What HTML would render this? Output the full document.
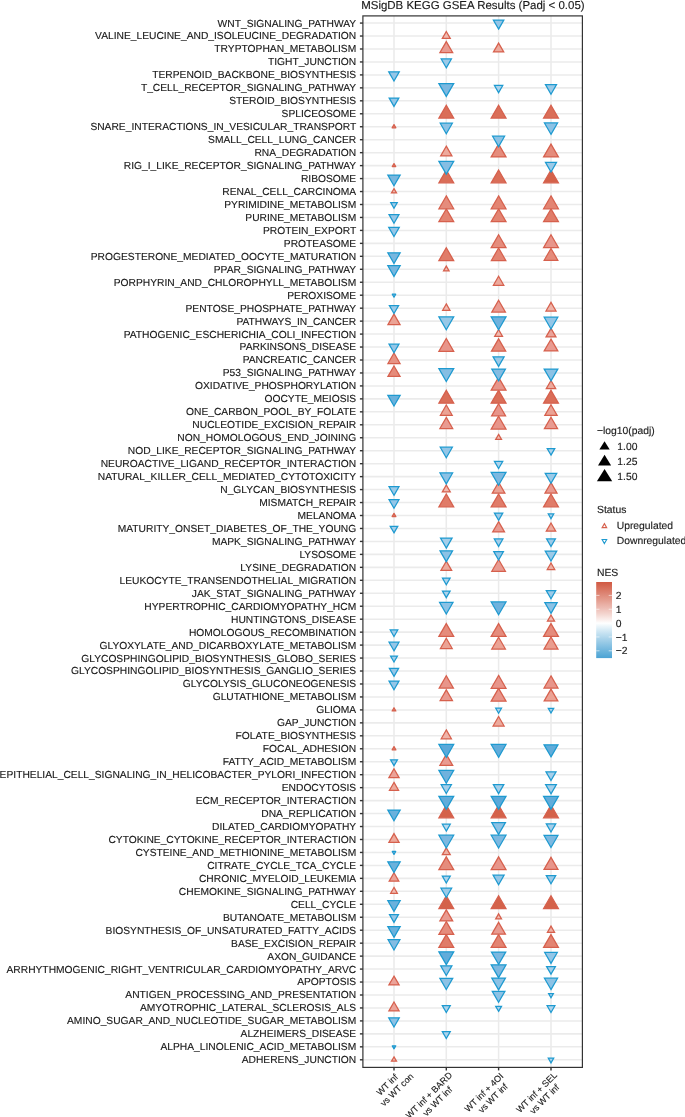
<!DOCTYPE html>
<html><head><meta charset="utf-8"><title>MSigDB KEGG GSEA Results</title>
<style>html,body{margin:0;padding:0;background:#fff;}body{width:685px;height:1117px;overflow:hidden;}svg{display:block;will-change:transform;transform:translateZ(0);}text{font-family:"Liberation Sans",sans-serif;fill:#1a1a1a;stroke:#1a1a1a;stroke-width:0.14px;text-rendering:geometricPrecision;}</style></head><body>
<svg width="685" height="1117" viewBox="0 0 685 1117">
<rect x="0" y="0" width="685" height="1117" fill="#ffffff"/>
<text x="361.2" y="8.8" font-size="11.47" fill="#000">MSigDB KEGG GSEA Results (Padj &lt; 0.05)</text>
<g stroke="#ebebeb" stroke-width="1.55">
<line x1="362.9" x2="582.4" y1="23.07" y2="23.07"/>
<line x1="362.9" x2="582.4" y1="36.03" y2="36.03"/>
<line x1="362.9" x2="582.4" y1="48.99" y2="48.99"/>
<line x1="362.9" x2="582.4" y1="61.95" y2="61.95"/>
<line x1="362.9" x2="582.4" y1="74.91" y2="74.91"/>
<line x1="362.9" x2="582.4" y1="87.87" y2="87.87"/>
<line x1="362.9" x2="582.4" y1="100.82" y2="100.82"/>
<line x1="362.9" x2="582.4" y1="113.78" y2="113.78"/>
<line x1="362.9" x2="582.4" y1="126.74" y2="126.74"/>
<line x1="362.9" x2="582.4" y1="139.70" y2="139.70"/>
<line x1="362.9" x2="582.4" y1="152.66" y2="152.66"/>
<line x1="362.9" x2="582.4" y1="165.62" y2="165.62"/>
<line x1="362.9" x2="582.4" y1="178.58" y2="178.58"/>
<line x1="362.9" x2="582.4" y1="191.54" y2="191.54"/>
<line x1="362.9" x2="582.4" y1="204.50" y2="204.50"/>
<line x1="362.9" x2="582.4" y1="217.45" y2="217.45"/>
<line x1="362.9" x2="582.4" y1="230.41" y2="230.41"/>
<line x1="362.9" x2="582.4" y1="243.37" y2="243.37"/>
<line x1="362.9" x2="582.4" y1="256.33" y2="256.33"/>
<line x1="362.9" x2="582.4" y1="269.29" y2="269.29"/>
<line x1="362.9" x2="582.4" y1="282.25" y2="282.25"/>
<line x1="362.9" x2="582.4" y1="295.21" y2="295.21"/>
<line x1="362.9" x2="582.4" y1="308.17" y2="308.17"/>
<line x1="362.9" x2="582.4" y1="321.13" y2="321.13"/>
<line x1="362.9" x2="582.4" y1="334.09" y2="334.09"/>
<line x1="362.9" x2="582.4" y1="347.04" y2="347.04"/>
<line x1="362.9" x2="582.4" y1="360.00" y2="360.00"/>
<line x1="362.9" x2="582.4" y1="372.96" y2="372.96"/>
<line x1="362.9" x2="582.4" y1="385.92" y2="385.92"/>
<line x1="362.9" x2="582.4" y1="398.88" y2="398.88"/>
<line x1="362.9" x2="582.4" y1="411.84" y2="411.84"/>
<line x1="362.9" x2="582.4" y1="424.80" y2="424.80"/>
<line x1="362.9" x2="582.4" y1="437.76" y2="437.76"/>
<line x1="362.9" x2="582.4" y1="450.72" y2="450.72"/>
<line x1="362.9" x2="582.4" y1="463.68" y2="463.68"/>
<line x1="362.9" x2="582.4" y1="476.63" y2="476.63"/>
<line x1="362.9" x2="582.4" y1="489.59" y2="489.59"/>
<line x1="362.9" x2="582.4" y1="502.55" y2="502.55"/>
<line x1="362.9" x2="582.4" y1="515.51" y2="515.51"/>
<line x1="362.9" x2="582.4" y1="528.47" y2="528.47"/>
<line x1="362.9" x2="582.4" y1="541.43" y2="541.43"/>
<line x1="362.9" x2="582.4" y1="554.39" y2="554.39"/>
<line x1="362.9" x2="582.4" y1="567.35" y2="567.35"/>
<line x1="362.9" x2="582.4" y1="580.31" y2="580.31"/>
<line x1="362.9" x2="582.4" y1="593.27" y2="593.27"/>
<line x1="362.9" x2="582.4" y1="606.23" y2="606.23"/>
<line x1="362.9" x2="582.4" y1="619.18" y2="619.18"/>
<line x1="362.9" x2="582.4" y1="632.14" y2="632.14"/>
<line x1="362.9" x2="582.4" y1="645.10" y2="645.10"/>
<line x1="362.9" x2="582.4" y1="658.06" y2="658.06"/>
<line x1="362.9" x2="582.4" y1="671.02" y2="671.02"/>
<line x1="362.9" x2="582.4" y1="683.98" y2="683.98"/>
<line x1="362.9" x2="582.4" y1="696.94" y2="696.94"/>
<line x1="362.9" x2="582.4" y1="709.90" y2="709.90"/>
<line x1="362.9" x2="582.4" y1="722.86" y2="722.86"/>
<line x1="362.9" x2="582.4" y1="735.82" y2="735.82"/>
<line x1="362.9" x2="582.4" y1="748.77" y2="748.77"/>
<line x1="362.9" x2="582.4" y1="761.73" y2="761.73"/>
<line x1="362.9" x2="582.4" y1="774.69" y2="774.69"/>
<line x1="362.9" x2="582.4" y1="787.65" y2="787.65"/>
<line x1="362.9" x2="582.4" y1="800.61" y2="800.61"/>
<line x1="362.9" x2="582.4" y1="813.57" y2="813.57"/>
<line x1="362.9" x2="582.4" y1="826.53" y2="826.53"/>
<line x1="362.9" x2="582.4" y1="839.49" y2="839.49"/>
<line x1="362.9" x2="582.4" y1="852.45" y2="852.45"/>
<line x1="362.9" x2="582.4" y1="865.40" y2="865.40"/>
<line x1="362.9" x2="582.4" y1="878.36" y2="878.36"/>
<line x1="362.9" x2="582.4" y1="891.32" y2="891.32"/>
<line x1="362.9" x2="582.4" y1="904.28" y2="904.28"/>
<line x1="362.9" x2="582.4" y1="917.24" y2="917.24"/>
<line x1="362.9" x2="582.4" y1="930.20" y2="930.20"/>
<line x1="362.9" x2="582.4" y1="943.16" y2="943.16"/>
<line x1="362.9" x2="582.4" y1="956.12" y2="956.12"/>
<line x1="362.9" x2="582.4" y1="969.08" y2="969.08"/>
<line x1="362.9" x2="582.4" y1="982.04" y2="982.04"/>
<line x1="362.9" x2="582.4" y1="995.00" y2="995.00"/>
<line x1="362.9" x2="582.4" y1="1007.95" y2="1007.95"/>
<line x1="362.9" x2="582.4" y1="1020.91" y2="1020.91"/>
<line x1="362.9" x2="582.4" y1="1033.87" y2="1033.87"/>
<line x1="362.9" x2="582.4" y1="1046.83" y2="1046.83"/>
<line x1="362.9" x2="582.4" y1="1059.79" y2="1059.79"/>
<line x1="394.00" x2="394.00" y1="15.9" y2="1067.4"/>
<line x1="446.30" x2="446.30" y1="15.9" y2="1067.4"/>
<line x1="498.60" x2="498.60" y1="15.9" y2="1067.4"/>
<line x1="551.00" x2="551.00" y1="15.9" y2="1067.4"/>
</g>
<g>
<polygon points="394.00,1056.88 396.52,1061.24 391.48,1061.24" fill="#f1bab0" stroke="#d6604d" stroke-width="1.25" stroke-linejoin="miter"/>
<polygon points="551.00,1062.93 553.72,1058.22 548.28,1058.22" fill="#acd3ec" stroke="#1e9ad0" stroke-width="1.25" stroke-linejoin="miter"/>
<polygon points="394.00,1048.82 395.73,1045.84 392.27,1045.84" fill="#81bde1" stroke="#1e9ad0" stroke-width="1.25" stroke-linejoin="round"/>
<polygon points="446.30,1038.45 450.27,1031.58 442.33,1031.58" fill="#acd3ec" stroke="#1e9ad0" stroke-width="1.25" stroke-linejoin="miter"/>
<polygon points="394.00,1027.00 399.27,1017.87 388.73,1017.87" fill="#8dc1e4" stroke="#1e9ad0" stroke-width="1.25" stroke-linejoin="miter"/>
<polygon points="394.00,1002.04 399.12,1010.91 388.88,1010.91" fill="#eba399" stroke="#d6604d" stroke-width="1.25" stroke-linejoin="miter"/>
<polygon points="446.30,1012.54 450.27,1005.66 442.33,1005.66" fill="#acd3ec" stroke="#1e9ad0" stroke-width="1.25" stroke-linejoin="miter"/>
<polygon points="498.60,1011.32 501.52,1006.27 495.68,1006.27" fill="#acd3ec" stroke="#1e9ad0" stroke-width="1.25" stroke-linejoin="miter"/>
<polygon points="551.00,1012.48 554.92,1005.69 547.08,1005.69" fill="#acd3ec" stroke="#1e9ad0" stroke-width="1.25" stroke-linejoin="miter"/>
<polygon points="498.60,1002.29 504.92,991.35 492.28,991.35" fill="#8cc2e5" stroke="#1e9ad0" stroke-width="1.25" stroke-linejoin="miter"/>
<polygon points="551.00,997.73 553.37,993.63 548.63,993.63" fill="#acd3ec" stroke="#1e9ad0" stroke-width="1.25" stroke-linejoin="miter"/>
<polygon points="394.00,976.13 399.12,984.99 388.88,984.99" fill="#eba399" stroke="#d6604d" stroke-width="1.25" stroke-linejoin="miter"/>
<polygon points="446.30,989.45 452.72,978.33 439.88,978.33" fill="#8cc2e5" stroke="#1e9ad0" stroke-width="1.25" stroke-linejoin="miter"/>
<polygon points="498.60,989.91 505.42,978.10 491.78,978.10" fill="#8cc2e5" stroke="#1e9ad0" stroke-width="1.25" stroke-linejoin="miter"/>
<polygon points="551.00,989.62 557.57,978.24 544.43,978.24" fill="#8cc2e5" stroke="#1e9ad0" stroke-width="1.25" stroke-linejoin="miter"/>
<polygon points="446.30,975.56 451.92,965.83 440.68,965.83" fill="#95c6e7" stroke="#1e9ad0" stroke-width="1.25" stroke-linejoin="miter"/>
<polygon points="498.60,977.64 506.02,964.79 491.18,964.79" fill="#7cb8e0" stroke="#1e9ad0" stroke-width="1.25" stroke-linejoin="miter"/>
<polygon points="551.00,974.18 555.42,966.53 546.58,966.53" fill="#a5cfea" stroke="#1e9ad0" stroke-width="1.25" stroke-linejoin="miter"/>
<polygon points="446.30,964.68 453.72,951.84 438.88,951.84" fill="#61acda" stroke="#1e9ad0" stroke-width="1.25" stroke-linejoin="miter"/>
<polygon points="498.60,964.34 505.72,952.01 491.48,952.01" fill="#7cb8e0" stroke="#1e9ad0" stroke-width="1.25" stroke-linejoin="miter"/>
<polygon points="551.00,963.41 557.32,952.47 544.68,952.47" fill="#93c6e7" stroke="#1e9ad0" stroke-width="1.25" stroke-linejoin="miter"/>
<polygon points="394.00,949.99 399.92,939.74 388.08,939.74" fill="#84bce2" stroke="#1e9ad0" stroke-width="1.25" stroke-linejoin="miter"/>
<polygon points="446.30,934.59 453.72,947.44 438.88,947.44" fill="#e07c69" stroke="#d6604d" stroke-width="1.25" stroke-linejoin="miter"/>
<polygon points="498.60,934.59 506.02,947.44 491.18,947.44" fill="#e38472" stroke="#d6604d" stroke-width="1.25" stroke-linejoin="miter"/>
<polygon points="551.00,934.59 558.42,947.44 543.58,947.44" fill="#e38472" stroke="#d6604d" stroke-width="1.25" stroke-linejoin="miter"/>
<polygon points="394.00,937.32 400.17,926.64 387.83,926.64" fill="#6ab1dc" stroke="#1e9ad0" stroke-width="1.25" stroke-linejoin="miter"/>
<polygon points="446.30,921.64 453.72,934.48 438.88,934.48" fill="#e58c7c" stroke="#d6604d" stroke-width="1.25" stroke-linejoin="miter"/>
<polygon points="498.60,922.33 505.42,934.14 491.78,934.14" fill="#e99b91" stroke="#d6604d" stroke-width="1.25" stroke-linejoin="miter"/>
<polygon points="551.00,926.08 554.57,932.26 547.43,932.26" fill="#eeb1a5" stroke="#d6604d" stroke-width="1.25" stroke-linejoin="miter"/>
<polygon points="394.00,922.40 398.47,914.66 389.53,914.66" fill="#95c6e7" stroke="#1e9ad0" stroke-width="1.25" stroke-linejoin="miter"/>
<polygon points="446.30,909.83 452.72,920.95 439.88,920.95" fill="#e99b91" stroke="#d6604d" stroke-width="1.25" stroke-linejoin="miter"/>
<polygon points="498.60,913.87 501.52,918.93 495.68,918.93" fill="#f1bab0" stroke="#d6604d" stroke-width="1.25" stroke-linejoin="miter"/>
<polygon points="394.00,911.40 400.17,900.72 387.83,900.72" fill="#6ab1dc" stroke="#1e9ad0" stroke-width="1.25" stroke-linejoin="miter"/>
<polygon points="446.30,895.72 453.72,908.56 438.88,908.56" fill="#d4624a" stroke="#d6604d" stroke-width="1.25" stroke-linejoin="miter"/>
<polygon points="498.60,895.72 506.02,908.56 491.18,908.56" fill="#d4624a" stroke="#d6604d" stroke-width="1.25" stroke-linejoin="miter"/>
<polygon points="551.00,895.72 558.42,908.56 543.58,908.56" fill="#d4624a" stroke="#d6604d" stroke-width="1.25" stroke-linejoin="miter"/>
<polygon points="394.00,887.43 397.37,893.27 390.63,893.27" fill="#f1bab0" stroke="#d6604d" stroke-width="1.25" stroke-linejoin="miter"/>
<polygon points="446.30,897.52 451.67,888.22 440.93,888.22" fill="#9bcae8" stroke="#1e9ad0" stroke-width="1.25" stroke-linejoin="miter"/>
<polygon points="394.00,872.80 398.82,881.15 389.18,881.15" fill="#eba399" stroke="#d6604d" stroke-width="1.25" stroke-linejoin="miter"/>
<polygon points="446.30,882.95 450.27,876.07 442.33,876.07" fill="#acd3ec" stroke="#1e9ad0" stroke-width="1.25" stroke-linejoin="miter"/>
<polygon points="498.60,884.74 504.12,875.18 493.08,875.18" fill="#95c6e7" stroke="#1e9ad0" stroke-width="1.25" stroke-linejoin="miter"/>
<polygon points="551.00,883.81 555.72,875.64 546.28,875.64" fill="#9bcae8" stroke="#1e9ad0" stroke-width="1.25" stroke-linejoin="miter"/>
<polygon points="394.00,872.53 400.17,861.84 387.83,861.84" fill="#6ab1dc" stroke="#1e9ad0" stroke-width="1.25" stroke-linejoin="miter"/>
<polygon points="446.30,856.84 453.72,869.69 438.88,869.69" fill="#e58c7c" stroke="#d6604d" stroke-width="1.25" stroke-linejoin="miter"/>
<polygon points="498.60,856.84 506.02,869.69 491.18,869.69" fill="#e8958a" stroke="#d6604d" stroke-width="1.25" stroke-linejoin="miter"/>
<polygon points="551.00,857.36 557.97,869.43 544.03,869.43" fill="#e8958a" stroke="#d6604d" stroke-width="1.25" stroke-linejoin="miter"/>
<polygon points="394.00,854.44 395.73,851.45 392.27,851.45" fill="#81bde1" stroke="#1e9ad0" stroke-width="1.25" stroke-linejoin="round"/>
<polygon points="446.30,847.86 450.27,854.74 442.33,854.74" fill="#eeb1a5" stroke="#d6604d" stroke-width="1.25" stroke-linejoin="miter"/>
<polygon points="394.00,833.58 399.12,842.44 388.88,842.44" fill="#edaa9d" stroke="#d6604d" stroke-width="1.25" stroke-linejoin="miter"/>
<polygon points="446.30,848.05 453.72,835.20 438.88,835.20" fill="#7cb8e0" stroke="#1e9ad0" stroke-width="1.25" stroke-linejoin="miter"/>
<polygon points="498.60,848.05 506.02,835.20 491.18,835.20" fill="#7cb8e0" stroke="#1e9ad0" stroke-width="1.25" stroke-linejoin="miter"/>
<polygon points="551.00,847.53 557.97,835.46 544.03,835.46" fill="#7cb8e0" stroke="#1e9ad0" stroke-width="1.25" stroke-linejoin="miter"/>
<polygon points="446.30,831.11 450.27,824.24 442.33,824.24" fill="#b7d9ee" stroke="#1e9ad0" stroke-width="1.25" stroke-linejoin="miter"/>
<polygon points="498.60,834.40 505.42,822.59 491.78,822.59" fill="#8cc2e5" stroke="#1e9ad0" stroke-width="1.25" stroke-linejoin="miter"/>
<polygon points="551.00,831.98 555.72,823.80 546.28,823.80" fill="#a5cfea" stroke="#1e9ad0" stroke-width="1.25" stroke-linejoin="miter"/>
<polygon points="394.00,820.69 400.17,810.01 387.83,810.01" fill="#6ab1dc" stroke="#1e9ad0" stroke-width="1.25" stroke-linejoin="miter"/>
<polygon points="446.30,805.00 453.72,817.85 438.88,817.85" fill="#d4624a" stroke="#d6604d" stroke-width="1.25" stroke-linejoin="miter"/>
<polygon points="498.60,805.00 506.02,817.85 491.18,817.85" fill="#d4624a" stroke="#d6604d" stroke-width="1.25" stroke-linejoin="miter"/>
<polygon points="551.00,805.00 558.42,817.85 543.58,817.85" fill="#d4624a" stroke="#d6604d" stroke-width="1.25" stroke-linejoin="miter"/>
<polygon points="446.30,809.17 453.72,796.33 438.88,796.33" fill="#61acda" stroke="#1e9ad0" stroke-width="1.25" stroke-linejoin="miter"/>
<polygon points="498.60,809.17 506.02,796.33 491.18,796.33" fill="#5aa8d9" stroke="#1e9ad0" stroke-width="1.25" stroke-linejoin="miter"/>
<polygon points="551.00,809.17 558.42,796.33 543.58,796.33" fill="#61acda" stroke="#1e9ad0" stroke-width="1.25" stroke-linejoin="miter"/>
<polygon points="394.00,782.38 398.57,790.29 389.43,790.29" fill="#edaa9d" stroke="#d6604d" stroke-width="1.25" stroke-linejoin="miter"/>
<polygon points="446.30,793.56 451.42,784.70 441.18,784.70" fill="#a5cfea" stroke="#1e9ad0" stroke-width="1.25" stroke-linejoin="miter"/>
<polygon points="498.60,793.68 503.82,784.64 493.38,784.64" fill="#a5cfea" stroke="#1e9ad0" stroke-width="1.25" stroke-linejoin="miter"/>
<polygon points="551.00,793.85 556.37,784.55 545.63,784.55" fill="#a5cfea" stroke="#1e9ad0" stroke-width="1.25" stroke-linejoin="miter"/>
<polygon points="394.00,768.78 399.12,777.65 388.88,777.65" fill="#eba399" stroke="#d6604d" stroke-width="1.25" stroke-linejoin="miter"/>
<polygon points="446.30,783.26 453.72,770.41 438.88,770.41" fill="#6fb2dd" stroke="#1e9ad0" stroke-width="1.25" stroke-linejoin="miter"/>
<polygon points="551.00,780.49 556.02,771.80 545.98,771.80" fill="#a5cfea" stroke="#1e9ad0" stroke-width="1.25" stroke-linejoin="miter"/>
<polygon points="394.00,765.68 397.42,759.76 390.58,759.76" fill="#9dcbe9" stroke="#1e9ad0" stroke-width="1.25" stroke-linejoin="miter"/>
<polygon points="446.30,754.32 452.72,765.44 439.88,765.44" fill="#e99b91" stroke="#d6604d" stroke-width="1.25" stroke-linejoin="miter"/>
<polygon points="394.00,746.61 395.88,749.86 392.12,749.86" fill="#e18b79" stroke="#d6604d" stroke-width="1.25" stroke-linejoin="round"/>
<polygon points="446.30,757.34 453.72,744.49 438.88,744.49" fill="#5aa8d9" stroke="#1e9ad0" stroke-width="1.25" stroke-linejoin="miter"/>
<polygon points="498.60,757.34 506.02,744.49 491.18,744.49" fill="#61acda" stroke="#1e9ad0" stroke-width="1.25" stroke-linejoin="miter"/>
<polygon points="551.00,756.82 557.97,744.75 544.03,744.75" fill="#61acda" stroke="#1e9ad0" stroke-width="1.25" stroke-linejoin="miter"/>
<polygon points="446.30,729.91 451.42,738.77 441.18,738.77" fill="#efb4a9" stroke="#d6604d" stroke-width="1.25" stroke-linejoin="miter"/>
<polygon points="498.60,716.48 504.12,726.04 493.08,726.04" fill="#edaa9d" stroke="#d6604d" stroke-width="1.25" stroke-linejoin="miter"/>
<polygon points="394.00,707.73 395.88,710.98 392.12,710.98" fill="#e18b79" stroke="#d6604d" stroke-width="1.25" stroke-linejoin="round"/>
<polygon points="498.60,713.27 501.52,708.21 495.68,708.21" fill="#acd3ec" stroke="#1e9ad0" stroke-width="1.25" stroke-linejoin="miter"/>
<polygon points="551.00,713.03 553.72,708.33 548.28,708.33" fill="#acd3ec" stroke="#1e9ad0" stroke-width="1.25" stroke-linejoin="miter"/>
<polygon points="446.30,689.82 452.47,700.50 440.13,700.50" fill="#e99b91" stroke="#d6604d" stroke-width="1.25" stroke-linejoin="miter"/>
<polygon points="498.60,688.37 506.02,701.22 491.18,701.22" fill="#e8958a" stroke="#d6604d" stroke-width="1.25" stroke-linejoin="miter"/>
<polygon points="551.00,689.07 557.82,700.87 544.18,700.87" fill="#eba395" stroke="#d6604d" stroke-width="1.25" stroke-linejoin="miter"/>
<polygon points="394.00,689.71 398.97,681.11 389.03,681.11" fill="#95c6e7" stroke="#1e9ad0" stroke-width="1.25" stroke-linejoin="miter"/>
<polygon points="446.30,675.76 453.42,688.09 439.18,688.09" fill="#e8958a" stroke="#d6604d" stroke-width="1.25" stroke-linejoin="miter"/>
<polygon points="498.60,675.41 506.02,688.26 491.18,688.26" fill="#e8958a" stroke="#d6604d" stroke-width="1.25" stroke-linejoin="miter"/>
<polygon points="551.00,675.93 557.97,688.00 544.03,688.00" fill="#e8958a" stroke="#d6604d" stroke-width="1.25" stroke-linejoin="miter"/>
<polygon points="394.00,676.35 398.62,668.35 389.38,668.35" fill="#95c6e7" stroke="#1e9ad0" stroke-width="1.25" stroke-linejoin="miter"/>
<polygon points="394.00,662.01 397.42,656.09 390.58,656.09" fill="#a3ceea" stroke="#1e9ad0" stroke-width="1.25" stroke-linejoin="miter"/>
<polygon points="394.00,650.84 398.97,642.23 389.03,642.23" fill="#95c6e7" stroke="#1e9ad0" stroke-width="1.25" stroke-linejoin="miter"/>
<polygon points="446.30,638.27 452.22,648.52 440.38,648.52" fill="#eba395" stroke="#d6604d" stroke-width="1.25" stroke-linejoin="miter"/>
<polygon points="498.60,637.23 505.42,649.04 491.78,649.04" fill="#eba395" stroke="#d6604d" stroke-width="1.25" stroke-linejoin="miter"/>
<polygon points="551.00,637.06 557.97,649.12 544.03,649.12" fill="#ea9d8e" stroke="#d6604d" stroke-width="1.25" stroke-linejoin="miter"/>
<polygon points="394.00,636.49 397.77,629.97 390.23,629.97" fill="#a3ceea" stroke="#1e9ad0" stroke-width="1.25" stroke-linejoin="miter"/>
<polygon points="446.30,623.58 453.72,636.43 438.88,636.43" fill="#e58c7c" stroke="#d6604d" stroke-width="1.25" stroke-linejoin="miter"/>
<polygon points="498.60,623.58 506.02,636.43 491.18,636.43" fill="#e58c7c" stroke="#d6604d" stroke-width="1.25" stroke-linejoin="miter"/>
<polygon points="551.00,623.58 558.42,636.43 543.58,636.43" fill="#e58c7c" stroke="#d6604d" stroke-width="1.25" stroke-linejoin="miter"/>
<polygon points="551.00,615.06 554.57,621.24 547.43,621.24" fill="#f1bab0" stroke="#d6604d" stroke-width="1.25" stroke-linejoin="miter"/>
<polygon points="446.30,613.98 453.02,602.35 439.58,602.35" fill="#8cc2e5" stroke="#1e9ad0" stroke-width="1.25" stroke-linejoin="miter"/>
<polygon points="498.60,614.79 506.02,601.94 491.18,601.94" fill="#6fb2dd" stroke="#1e9ad0" stroke-width="1.25" stroke-linejoin="miter"/>
<polygon points="551.00,613.35 557.17,602.66 544.83,602.66" fill="#8cc2e5" stroke="#1e9ad0" stroke-width="1.25" stroke-linejoin="miter"/>
<polygon points="446.30,597.67 450.12,591.06 442.48,591.06" fill="#acd3ec" stroke="#1e9ad0" stroke-width="1.25" stroke-linejoin="miter"/>
<polygon points="551.00,598.71 555.72,590.54 546.28,590.54" fill="#9bcae8" stroke="#1e9ad0" stroke-width="1.25" stroke-linejoin="miter"/>
<polygon points="446.30,584.72 450.12,578.10 442.48,578.10" fill="#acd3ec" stroke="#1e9ad0" stroke-width="1.25" stroke-linejoin="miter"/>
<polygon points="446.30,561.15 451.67,570.45 440.93,570.45" fill="#edaa9d" stroke="#d6604d" stroke-width="1.25" stroke-linejoin="miter"/>
<polygon points="498.60,559.48 505.42,571.28 491.78,571.28" fill="#e99b91" stroke="#d6604d" stroke-width="1.25" stroke-linejoin="miter"/>
<polygon points="551.00,563.00 554.77,569.52 547.23,569.52" fill="#eeb1a5" stroke="#d6604d" stroke-width="1.25" stroke-linejoin="miter"/>
<polygon points="446.30,561.63 452.57,550.77 440.03,550.77" fill="#8cc2e5" stroke="#1e9ad0" stroke-width="1.25" stroke-linejoin="miter"/>
<polygon points="498.60,559.95 503.42,551.61 493.78,551.61" fill="#95c6e7" stroke="#1e9ad0" stroke-width="1.25" stroke-linejoin="miter"/>
<polygon points="551.00,561.05 556.77,551.06 545.23,551.06" fill="#9bcae8" stroke="#1e9ad0" stroke-width="1.25" stroke-linejoin="miter"/>
<polygon points="446.30,548.09 452.07,538.10 440.53,538.10" fill="#a5cfea" stroke="#1e9ad0" stroke-width="1.25" stroke-linejoin="miter"/>
<polygon points="498.60,546.42 502.92,538.94 494.28,538.94" fill="#a3ceea" stroke="#1e9ad0" stroke-width="1.25" stroke-linejoin="miter"/>
<polygon points="551.00,546.53 555.42,538.88 546.58,538.88" fill="#9bcae8" stroke="#1e9ad0" stroke-width="1.25" stroke-linejoin="miter"/>
<polygon points="394.00,532.82 397.77,526.30 390.23,526.30" fill="#a3ceea" stroke="#1e9ad0" stroke-width="1.25" stroke-linejoin="miter"/>
<polygon points="498.60,521.64 504.52,531.89 492.68,531.89" fill="#e99b91" stroke="#d6604d" stroke-width="1.25" stroke-linejoin="miter"/>
<polygon points="551.00,523.02 555.72,531.19 546.28,531.19" fill="#edaa9d" stroke="#d6604d" stroke-width="1.25" stroke-linejoin="miter"/>
<polygon points="394.00,513.35 395.88,516.59 392.12,516.59" fill="#e18b79" stroke="#d6604d" stroke-width="1.25" stroke-linejoin="round"/>
<polygon points="498.60,520.32 502.77,513.11 494.43,513.11" fill="#9dcbe9" stroke="#1e9ad0" stroke-width="1.25" stroke-linejoin="miter"/>
<polygon points="551.00,518.65 553.72,513.94 548.28,513.94" fill="#acd3ec" stroke="#1e9ad0" stroke-width="1.25" stroke-linejoin="miter"/>
<polygon points="394.00,508.29 398.97,499.69 389.03,499.69" fill="#95c6e7" stroke="#1e9ad0" stroke-width="1.25" stroke-linejoin="miter"/>
<polygon points="446.30,493.99 453.72,506.84 438.88,506.84" fill="#e07c69" stroke="#d6604d" stroke-width="1.25" stroke-linejoin="miter"/>
<polygon points="498.60,493.99 506.02,506.84 491.18,506.84" fill="#e07c69" stroke="#d6604d" stroke-width="1.25" stroke-linejoin="miter"/>
<polygon points="551.00,493.99 558.42,506.84 543.58,506.84" fill="#e07c69" stroke="#d6604d" stroke-width="1.25" stroke-linejoin="miter"/>
<polygon points="394.00,495.33 398.97,486.73 389.03,486.73" fill="#9bcae8" stroke="#1e9ad0" stroke-width="1.25" stroke-linejoin="miter"/>
<polygon points="446.30,485.01 450.27,491.88 442.33,491.88" fill="#f1bab0" stroke="#d6604d" stroke-width="1.25" stroke-linejoin="miter"/>
<polygon points="498.60,482.30 504.92,493.24 492.28,493.24" fill="#eba395" stroke="#d6604d" stroke-width="1.25" stroke-linejoin="miter"/>
<polygon points="551.00,482.65 557.02,493.07 544.98,493.07" fill="#e99b91" stroke="#d6604d" stroke-width="1.25" stroke-linejoin="miter"/>
<polygon points="446.30,483.93 452.62,472.99 439.98,472.99" fill="#8cc2e5" stroke="#1e9ad0" stroke-width="1.25" stroke-linejoin="miter"/>
<polygon points="498.60,485.20 506.02,472.35 491.18,472.35" fill="#7cb8e0" stroke="#1e9ad0" stroke-width="1.25" stroke-linejoin="miter"/>
<polygon points="551.00,483.29 556.77,473.31 545.23,473.31" fill="#9bcae8" stroke="#1e9ad0" stroke-width="1.25" stroke-linejoin="miter"/>
<polygon points="498.60,468.49 502.77,461.27 494.43,461.27" fill="#acd3ec" stroke="#1e9ad0" stroke-width="1.25" stroke-linejoin="miter"/>
<polygon points="446.30,457.72 452.37,447.21 440.23,447.21" fill="#93c6e7" stroke="#1e9ad0" stroke-width="1.25" stroke-linejoin="miter"/>
<polygon points="551.00,455.07 554.77,448.54 547.23,448.54" fill="#acd3ec" stroke="#1e9ad0" stroke-width="1.25" stroke-linejoin="miter"/>
<polygon points="498.60,434.39 501.52,439.44 495.68,439.44" fill="#f1bab0" stroke="#d6604d" stroke-width="1.25" stroke-linejoin="miter"/>
<polygon points="446.30,417.39 452.72,428.50 439.88,428.50" fill="#e99b91" stroke="#d6604d" stroke-width="1.25" stroke-linejoin="miter"/>
<polygon points="498.60,416.23 506.02,429.08 491.18,429.08" fill="#e8958a" stroke="#d6604d" stroke-width="1.25" stroke-linejoin="miter"/>
<polygon points="551.00,417.22 557.57,428.59 544.43,428.59" fill="#e99b91" stroke="#d6604d" stroke-width="1.25" stroke-linejoin="miter"/>
<polygon points="446.30,405.01 452.22,415.26 440.38,415.26" fill="#eba395" stroke="#d6604d" stroke-width="1.25" stroke-linejoin="miter"/>
<polygon points="498.60,403.79 505.57,415.86 491.63,415.86" fill="#e8958a" stroke="#d6604d" stroke-width="1.25" stroke-linejoin="miter"/>
<polygon points="551.00,404.72 557.17,415.40 544.83,415.40" fill="#eba395" stroke="#d6604d" stroke-width="1.25" stroke-linejoin="miter"/>
<polygon points="394.00,406.00 400.17,395.32 387.83,395.32" fill="#6ab1dc" stroke="#1e9ad0" stroke-width="1.25" stroke-linejoin="miter"/>
<polygon points="446.30,390.32 453.72,403.16 438.88,403.16" fill="#da6e58" stroke="#d6604d" stroke-width="1.25" stroke-linejoin="miter"/>
<polygon points="498.60,390.32 506.02,403.16 491.18,403.16" fill="#da6e58" stroke="#d6604d" stroke-width="1.25" stroke-linejoin="miter"/>
<polygon points="551.00,390.32 558.42,403.16 543.58,403.16" fill="#da6e58" stroke="#d6604d" stroke-width="1.25" stroke-linejoin="miter"/>
<polygon points="498.60,377.36 506.02,390.20 491.18,390.20" fill="#e8958a" stroke="#d6604d" stroke-width="1.25" stroke-linejoin="miter"/>
<polygon points="551.00,380.47 555.72,388.65 546.28,388.65" fill="#edaa9d" stroke="#d6604d" stroke-width="1.25" stroke-linejoin="miter"/>
<polygon points="394.00,365.96 400.07,376.47 387.93,376.47" fill="#e58b7a" stroke="#d6604d" stroke-width="1.25" stroke-linejoin="miter"/>
<polygon points="446.30,381.53 453.72,368.68 438.88,368.68" fill="#85bee3" stroke="#1e9ad0" stroke-width="1.25" stroke-linejoin="miter"/>
<polygon points="498.60,380.84 505.42,369.03 491.78,369.03" fill="#84bce2" stroke="#1e9ad0" stroke-width="1.25" stroke-linejoin="miter"/>
<polygon points="551.00,380.84 557.82,369.03 544.18,369.03" fill="#8cc2e5" stroke="#1e9ad0" stroke-width="1.25" stroke-linejoin="miter"/>
<polygon points="394.00,353.00 400.07,363.51 387.93,363.51" fill="#e79384" stroke="#d6604d" stroke-width="1.25" stroke-linejoin="miter"/>
<polygon points="498.60,366.38 504.12,356.82 493.08,356.82" fill="#9bcae8" stroke="#1e9ad0" stroke-width="1.25" stroke-linejoin="miter"/>
<polygon points="394.00,352.78 398.97,344.18 389.03,344.18" fill="#95c6e7" stroke="#1e9ad0" stroke-width="1.25" stroke-linejoin="miter"/>
<polygon points="446.30,338.48 453.72,351.33 438.88,351.33" fill="#e8958a" stroke="#d6604d" stroke-width="1.25" stroke-linejoin="miter"/>
<polygon points="498.60,338.83 505.72,351.15 491.48,351.15" fill="#e58c7c" stroke="#d6604d" stroke-width="1.25" stroke-linejoin="miter"/>
<polygon points="551.00,339.17 557.82,350.98 544.18,350.98" fill="#e99b91" stroke="#d6604d" stroke-width="1.25" stroke-linejoin="miter"/>
<polygon points="498.60,329.56 502.52,336.35 494.68,336.35" fill="#f1bab0" stroke="#d6604d" stroke-width="1.25" stroke-linejoin="miter"/>
<polygon points="551.00,328.35 555.97,336.95 546.03,336.95" fill="#eba399" stroke="#d6604d" stroke-width="1.25" stroke-linejoin="miter"/>
<polygon points="394.00,314.12 400.07,324.63 387.93,324.63" fill="#eba395" stroke="#d6604d" stroke-width="1.25" stroke-linejoin="miter"/>
<polygon points="446.30,329.69 453.72,316.84 438.88,316.84" fill="#97c8e7" stroke="#1e9ad0" stroke-width="1.25" stroke-linejoin="miter"/>
<polygon points="498.60,329.69 506.02,316.84 491.18,316.84" fill="#6fb2dd" stroke="#1e9ad0" stroke-width="1.25" stroke-linejoin="miter"/>
<polygon points="551.00,329.00 557.82,317.19 544.18,317.19" fill="#93c6e7" stroke="#1e9ad0" stroke-width="1.25" stroke-linejoin="miter"/>
<polygon points="394.00,313.50 398.62,305.50 389.38,305.50" fill="#9bcae8" stroke="#1e9ad0" stroke-width="1.25" stroke-linejoin="miter"/>
<polygon points="446.30,303.93 449.97,310.29 442.63,310.29" fill="#f1bab0" stroke="#d6604d" stroke-width="1.25" stroke-linejoin="miter"/>
<polygon points="498.60,300.30 505.42,312.10 491.78,312.10" fill="#e99b91" stroke="#d6604d" stroke-width="1.25" stroke-linejoin="miter"/>
<polygon points="551.00,302.37 556.02,311.06 545.98,311.06" fill="#efb4a9" stroke="#d6604d" stroke-width="1.25" stroke-linejoin="miter"/>
<polygon points="394.00,297.20 395.73,294.21 392.27,294.21" fill="#81bde1" stroke="#1e9ad0" stroke-width="1.25" stroke-linejoin="round"/>
<polygon points="498.60,276.23 503.82,285.26 493.38,285.26" fill="#edaa9d" stroke="#d6604d" stroke-width="1.25" stroke-linejoin="miter"/>
<polygon points="394.00,276.41 400.17,265.73 387.83,265.73" fill="#78b7df" stroke="#1e9ad0" stroke-width="1.25" stroke-linejoin="miter"/>
<polygon points="446.30,266.10 449.07,270.89 443.53,270.89" fill="#f1bab0" stroke="#d6604d" stroke-width="1.25" stroke-linejoin="miter"/>
<polygon points="394.00,263.45 400.17,252.77 387.83,252.77" fill="#78b7df" stroke="#1e9ad0" stroke-width="1.25" stroke-linejoin="miter"/>
<polygon points="446.30,247.77 453.72,260.61 438.88,260.61" fill="#e07c69" stroke="#d6604d" stroke-width="1.25" stroke-linejoin="miter"/>
<polygon points="498.60,248.00 505.82,260.50 491.38,260.50" fill="#e38472" stroke="#d6604d" stroke-width="1.25" stroke-linejoin="miter"/>
<polygon points="551.00,248.46 557.82,260.27 544.18,260.27" fill="#e58b7a" stroke="#d6604d" stroke-width="1.25" stroke-linejoin="miter"/>
<polygon points="498.60,234.81 506.02,247.66 491.18,247.66" fill="#e58c7c" stroke="#d6604d" stroke-width="1.25" stroke-linejoin="miter"/>
<polygon points="551.00,234.81 558.42,247.66 543.58,247.66" fill="#e8958a" stroke="#d6604d" stroke-width="1.25" stroke-linejoin="miter"/>
<polygon points="394.00,236.50 399.27,227.37 388.73,227.37" fill="#95c6e7" stroke="#1e9ad0" stroke-width="1.25" stroke-linejoin="miter"/>
<polygon points="394.00,223.19 398.97,214.59 389.03,214.59" fill="#95c6e7" stroke="#1e9ad0" stroke-width="1.25" stroke-linejoin="miter"/>
<polygon points="446.30,208.89 453.72,221.74 438.88,221.74" fill="#e38472" stroke="#d6604d" stroke-width="1.25" stroke-linejoin="miter"/>
<polygon points="498.60,208.89 506.02,221.74 491.18,221.74" fill="#e38472" stroke="#d6604d" stroke-width="1.25" stroke-linejoin="miter"/>
<polygon points="551.00,208.89 558.42,221.74 543.58,221.74" fill="#e07c69" stroke="#d6604d" stroke-width="1.25" stroke-linejoin="miter"/>
<polygon points="394.00,208.27 397.27,202.61 390.73,202.61" fill="#a3ceea" stroke="#1e9ad0" stroke-width="1.25" stroke-linejoin="miter"/>
<polygon points="446.30,195.93 453.72,208.78 438.88,208.78" fill="#e58c7c" stroke="#d6604d" stroke-width="1.25" stroke-linejoin="miter"/>
<polygon points="498.60,195.93 506.02,208.78 491.18,208.78" fill="#e38472" stroke="#d6604d" stroke-width="1.25" stroke-linejoin="miter"/>
<polygon points="551.00,195.93 558.42,208.78 543.58,208.78" fill="#e38472" stroke="#d6604d" stroke-width="1.25" stroke-linejoin="miter"/>
<polygon points="394.00,188.63 396.52,192.99 391.48,192.99" fill="#f1bab0" stroke="#d6604d" stroke-width="1.25" stroke-linejoin="miter"/>
<polygon points="394.00,185.70 400.17,175.02 387.83,175.02" fill="#78b7df" stroke="#1e9ad0" stroke-width="1.25" stroke-linejoin="miter"/>
<polygon points="446.30,170.01 453.72,182.86 438.88,182.86" fill="#da6e58" stroke="#d6604d" stroke-width="1.25" stroke-linejoin="miter"/>
<polygon points="498.60,170.01 506.02,182.86 491.18,182.86" fill="#da6e58" stroke="#d6604d" stroke-width="1.25" stroke-linejoin="miter"/>
<polygon points="551.00,170.01 558.42,182.86 543.58,182.86" fill="#d4624a" stroke="#d6604d" stroke-width="1.25" stroke-linejoin="miter"/>
<polygon points="394.00,163.63 395.73,166.61 392.27,166.61" fill="#e18b79" stroke="#d6604d" stroke-width="1.25" stroke-linejoin="round"/>
<polygon points="446.30,174.18 453.72,161.34 438.88,161.34" fill="#85bee3" stroke="#1e9ad0" stroke-width="1.25" stroke-linejoin="miter"/>
<polygon points="551.00,171.99 556.52,162.43 545.48,162.43" fill="#9bcae8" stroke="#1e9ad0" stroke-width="1.25" stroke-linejoin="miter"/>
<polygon points="446.30,146.17 451.92,155.90 440.68,155.90" fill="#edaa9d" stroke="#d6604d" stroke-width="1.25" stroke-linejoin="miter"/>
<polygon points="498.60,144.10 506.02,156.94 491.18,156.94" fill="#e58c7c" stroke="#d6604d" stroke-width="1.25" stroke-linejoin="miter"/>
<polygon points="551.00,144.10 558.42,156.94 543.58,156.94" fill="#e58c7c" stroke="#d6604d" stroke-width="1.25" stroke-linejoin="miter"/>
<polygon points="498.60,146.65 504.62,136.23 492.58,136.23" fill="#8cc2e5" stroke="#1e9ad0" stroke-width="1.25" stroke-linejoin="miter"/>
<polygon points="394.00,124.58 395.88,127.82 392.12,127.82" fill="#e18b79" stroke="#d6604d" stroke-width="1.25" stroke-linejoin="round"/>
<polygon points="446.30,133.75 452.37,123.24 440.23,123.24" fill="#8cc2e5" stroke="#1e9ad0" stroke-width="1.25" stroke-linejoin="miter"/>
<polygon points="551.00,134.33 557.57,122.95 544.43,122.95" fill="#8cc2e5" stroke="#1e9ad0" stroke-width="1.25" stroke-linejoin="miter"/>
<polygon points="446.30,105.22 453.72,118.07 438.88,118.07" fill="#da6e58" stroke="#d6604d" stroke-width="1.25" stroke-linejoin="miter"/>
<polygon points="498.60,105.22 506.02,118.07 491.18,118.07" fill="#da6e58" stroke="#d6604d" stroke-width="1.25" stroke-linejoin="miter"/>
<polygon points="551.00,105.22 558.42,118.07 543.58,118.07" fill="#da6e58" stroke="#d6604d" stroke-width="1.25" stroke-linejoin="miter"/>
<polygon points="394.00,106.39 398.82,98.04 389.18,98.04" fill="#95c6e7" stroke="#1e9ad0" stroke-width="1.25" stroke-linejoin="miter"/>
<polygon points="446.30,96.43 453.72,83.58 438.88,83.58" fill="#7cb8e0" stroke="#1e9ad0" stroke-width="1.25" stroke-linejoin="miter"/>
<polygon points="498.60,92.68 502.77,85.46 494.43,85.46" fill="#acd3ec" stroke="#1e9ad0" stroke-width="1.25" stroke-linejoin="miter"/>
<polygon points="551.00,94.24 556.52,84.68 545.48,84.68" fill="#9bcae8" stroke="#1e9ad0" stroke-width="1.25" stroke-linejoin="miter"/>
<polygon points="394.00,80.99 399.27,71.86 388.73,71.86" fill="#95c6e7" stroke="#1e9ad0" stroke-width="1.25" stroke-linejoin="miter"/>
<polygon points="446.30,67.86 451.42,58.99 441.18,58.99" fill="#9bcae8" stroke="#1e9ad0" stroke-width="1.25" stroke-linejoin="miter"/>
<polygon points="446.30,41.58 452.72,52.69 439.88,52.69" fill="#e99b91" stroke="#d6604d" stroke-width="1.25" stroke-linejoin="miter"/>
<polygon points="498.60,43.08 503.72,51.94 493.48,51.94" fill="#edaa9d" stroke="#d6604d" stroke-width="1.25" stroke-linejoin="miter"/>
<polygon points="446.30,31.45 450.27,38.32 442.33,38.32" fill="#f1bab0" stroke="#d6604d" stroke-width="1.25" stroke-linejoin="miter"/>
<polygon points="498.60,29.09 503.82,20.06 493.38,20.06" fill="#95c6e7" stroke="#1e9ad0" stroke-width="1.25" stroke-linejoin="miter"/>
</g>
<rect x="362.9" y="15.9" width="219.5" height="1051.5" fill="none" stroke="#333333" stroke-width="1.2"/>
<g stroke="#333333" stroke-width="1.4">
<line x1="359.9" x2="362.9" y1="23.07" y2="23.07"/>
<line x1="359.9" x2="362.9" y1="36.03" y2="36.03"/>
<line x1="359.9" x2="362.9" y1="48.99" y2="48.99"/>
<line x1="359.9" x2="362.9" y1="61.95" y2="61.95"/>
<line x1="359.9" x2="362.9" y1="74.91" y2="74.91"/>
<line x1="359.9" x2="362.9" y1="87.87" y2="87.87"/>
<line x1="359.9" x2="362.9" y1="100.82" y2="100.82"/>
<line x1="359.9" x2="362.9" y1="113.78" y2="113.78"/>
<line x1="359.9" x2="362.9" y1="126.74" y2="126.74"/>
<line x1="359.9" x2="362.9" y1="139.70" y2="139.70"/>
<line x1="359.9" x2="362.9" y1="152.66" y2="152.66"/>
<line x1="359.9" x2="362.9" y1="165.62" y2="165.62"/>
<line x1="359.9" x2="362.9" y1="178.58" y2="178.58"/>
<line x1="359.9" x2="362.9" y1="191.54" y2="191.54"/>
<line x1="359.9" x2="362.9" y1="204.50" y2="204.50"/>
<line x1="359.9" x2="362.9" y1="217.45" y2="217.45"/>
<line x1="359.9" x2="362.9" y1="230.41" y2="230.41"/>
<line x1="359.9" x2="362.9" y1="243.37" y2="243.37"/>
<line x1="359.9" x2="362.9" y1="256.33" y2="256.33"/>
<line x1="359.9" x2="362.9" y1="269.29" y2="269.29"/>
<line x1="359.9" x2="362.9" y1="282.25" y2="282.25"/>
<line x1="359.9" x2="362.9" y1="295.21" y2="295.21"/>
<line x1="359.9" x2="362.9" y1="308.17" y2="308.17"/>
<line x1="359.9" x2="362.9" y1="321.13" y2="321.13"/>
<line x1="359.9" x2="362.9" y1="334.09" y2="334.09"/>
<line x1="359.9" x2="362.9" y1="347.04" y2="347.04"/>
<line x1="359.9" x2="362.9" y1="360.00" y2="360.00"/>
<line x1="359.9" x2="362.9" y1="372.96" y2="372.96"/>
<line x1="359.9" x2="362.9" y1="385.92" y2="385.92"/>
<line x1="359.9" x2="362.9" y1="398.88" y2="398.88"/>
<line x1="359.9" x2="362.9" y1="411.84" y2="411.84"/>
<line x1="359.9" x2="362.9" y1="424.80" y2="424.80"/>
<line x1="359.9" x2="362.9" y1="437.76" y2="437.76"/>
<line x1="359.9" x2="362.9" y1="450.72" y2="450.72"/>
<line x1="359.9" x2="362.9" y1="463.68" y2="463.68"/>
<line x1="359.9" x2="362.9" y1="476.63" y2="476.63"/>
<line x1="359.9" x2="362.9" y1="489.59" y2="489.59"/>
<line x1="359.9" x2="362.9" y1="502.55" y2="502.55"/>
<line x1="359.9" x2="362.9" y1="515.51" y2="515.51"/>
<line x1="359.9" x2="362.9" y1="528.47" y2="528.47"/>
<line x1="359.9" x2="362.9" y1="541.43" y2="541.43"/>
<line x1="359.9" x2="362.9" y1="554.39" y2="554.39"/>
<line x1="359.9" x2="362.9" y1="567.35" y2="567.35"/>
<line x1="359.9" x2="362.9" y1="580.31" y2="580.31"/>
<line x1="359.9" x2="362.9" y1="593.27" y2="593.27"/>
<line x1="359.9" x2="362.9" y1="606.23" y2="606.23"/>
<line x1="359.9" x2="362.9" y1="619.18" y2="619.18"/>
<line x1="359.9" x2="362.9" y1="632.14" y2="632.14"/>
<line x1="359.9" x2="362.9" y1="645.10" y2="645.10"/>
<line x1="359.9" x2="362.9" y1="658.06" y2="658.06"/>
<line x1="359.9" x2="362.9" y1="671.02" y2="671.02"/>
<line x1="359.9" x2="362.9" y1="683.98" y2="683.98"/>
<line x1="359.9" x2="362.9" y1="696.94" y2="696.94"/>
<line x1="359.9" x2="362.9" y1="709.90" y2="709.90"/>
<line x1="359.9" x2="362.9" y1="722.86" y2="722.86"/>
<line x1="359.9" x2="362.9" y1="735.82" y2="735.82"/>
<line x1="359.9" x2="362.9" y1="748.77" y2="748.77"/>
<line x1="359.9" x2="362.9" y1="761.73" y2="761.73"/>
<line x1="359.9" x2="362.9" y1="774.69" y2="774.69"/>
<line x1="359.9" x2="362.9" y1="787.65" y2="787.65"/>
<line x1="359.9" x2="362.9" y1="800.61" y2="800.61"/>
<line x1="359.9" x2="362.9" y1="813.57" y2="813.57"/>
<line x1="359.9" x2="362.9" y1="826.53" y2="826.53"/>
<line x1="359.9" x2="362.9" y1="839.49" y2="839.49"/>
<line x1="359.9" x2="362.9" y1="852.45" y2="852.45"/>
<line x1="359.9" x2="362.9" y1="865.40" y2="865.40"/>
<line x1="359.9" x2="362.9" y1="878.36" y2="878.36"/>
<line x1="359.9" x2="362.9" y1="891.32" y2="891.32"/>
<line x1="359.9" x2="362.9" y1="904.28" y2="904.28"/>
<line x1="359.9" x2="362.9" y1="917.24" y2="917.24"/>
<line x1="359.9" x2="362.9" y1="930.20" y2="930.20"/>
<line x1="359.9" x2="362.9" y1="943.16" y2="943.16"/>
<line x1="359.9" x2="362.9" y1="956.12" y2="956.12"/>
<line x1="359.9" x2="362.9" y1="969.08" y2="969.08"/>
<line x1="359.9" x2="362.9" y1="982.04" y2="982.04"/>
<line x1="359.9" x2="362.9" y1="995.00" y2="995.00"/>
<line x1="359.9" x2="362.9" y1="1007.95" y2="1007.95"/>
<line x1="359.9" x2="362.9" y1="1020.91" y2="1020.91"/>
<line x1="359.9" x2="362.9" y1="1033.87" y2="1033.87"/>
<line x1="359.9" x2="362.9" y1="1046.83" y2="1046.83"/>
<line x1="359.9" x2="362.9" y1="1059.79" y2="1059.79"/>
<line x1="394.00" x2="394.00" y1="1067.4" y2="1070.4"/>
<line x1="446.30" x2="446.30" y1="1067.4" y2="1070.4"/>
<line x1="498.60" x2="498.60" y1="1067.4" y2="1070.4"/>
<line x1="551.00" x2="551.00" y1="1067.4" y2="1070.4"/>
</g>
<g font-size="10.25" text-anchor="end">
<text x="356.2" y="26.52">WNT_SIGNALING_PATHWAY</text>
<text x="356.2" y="39.48">VALINE_LEUCINE_AND_ISOLEUCINE_DEGRADATION</text>
<text x="356.2" y="52.44">TRYPTOPHAN_METABOLISM</text>
<text x="356.2" y="65.40">TIGHT_JUNCTION</text>
<text x="356.2" y="78.36">TERPENOID_BACKBONE_BIOSYNTHESIS</text>
<text x="356.2" y="91.32">T_CELL_RECEPTOR_SIGNALING_PATHWAY</text>
<text x="356.2" y="104.27">STEROID_BIOSYNTHESIS</text>
<text x="356.2" y="117.23">SPLICEOSOME</text>
<text x="356.2" y="130.19">SNARE_INTERACTIONS_IN_VESICULAR_TRANSPORT</text>
<text x="356.2" y="143.15">SMALL_CELL_LUNG_CANCER</text>
<text x="356.2" y="156.11">RNA_DEGRADATION</text>
<text x="356.2" y="169.07">RIG_I_LIKE_RECEPTOR_SIGNALING_PATHWAY</text>
<text x="356.2" y="182.03">RIBOSOME</text>
<text x="356.2" y="194.99">RENAL_CELL_CARCINOMA</text>
<text x="356.2" y="207.95">PYRIMIDINE_METABOLISM</text>
<text x="356.2" y="220.90">PURINE_METABOLISM</text>
<text x="356.2" y="233.86">PROTEIN_EXPORT</text>
<text x="356.2" y="246.82">PROTEASOME</text>
<text x="356.2" y="259.78">PROGESTERONE_MEDIATED_OOCYTE_MATURATION</text>
<text x="356.2" y="272.74">PPAR_SIGNALING_PATHWAY</text>
<text x="356.2" y="285.70">PORPHYRIN_AND_CHLOROPHYLL_METABOLISM</text>
<text x="356.2" y="298.66">PEROXISOME</text>
<text x="356.2" y="311.62">PENTOSE_PHOSPHATE_PATHWAY</text>
<text x="356.2" y="324.58">PATHWAYS_IN_CANCER</text>
<text x="356.2" y="337.54">PATHOGENIC_ESCHERICHIA_COLI_INFECTION</text>
<text x="356.2" y="350.49">PARKINSONS_DISEASE</text>
<text x="356.2" y="363.45">PANCREATIC_CANCER</text>
<text x="356.2" y="376.41">P53_SIGNALING_PATHWAY</text>
<text x="356.2" y="389.37">OXIDATIVE_PHOSPHORYLATION</text>
<text x="356.2" y="402.33">OOCYTE_MEIOSIS</text>
<text x="356.2" y="415.29">ONE_CARBON_POOL_BY_FOLATE</text>
<text x="356.2" y="428.25">NUCLEOTIDE_EXCISION_REPAIR</text>
<text x="356.2" y="441.21">NON_HOMOLOGOUS_END_JOINING</text>
<text x="356.2" y="454.17">NOD_LIKE_RECEPTOR_SIGNALING_PATHWAY</text>
<text x="356.2" y="467.13">NEUROACTIVE_LIGAND_RECEPTOR_INTERACTION</text>
<text x="356.2" y="480.08">NATURAL_KILLER_CELL_MEDIATED_CYTOTOXICITY</text>
<text x="356.2" y="493.04">N_GLYCAN_BIOSYNTHESIS</text>
<text x="356.2" y="506.00">MISMATCH_REPAIR</text>
<text x="356.2" y="518.96">MELANOMA</text>
<text x="356.2" y="531.92">MATURITY_ONSET_DIABETES_OF_THE_YOUNG</text>
<text x="356.2" y="544.88">MAPK_SIGNALING_PATHWAY</text>
<text x="356.2" y="557.84">LYSOSOME</text>
<text x="356.2" y="570.80">LYSINE_DEGRADATION</text>
<text x="356.2" y="583.76">LEUKOCYTE_TRANSENDOTHELIAL_MIGRATION</text>
<text x="356.2" y="596.72">JAK_STAT_SIGNALING_PATHWAY</text>
<text x="356.2" y="609.68">HYPERTROPHIC_CARDIOMYOPATHY_HCM</text>
<text x="356.2" y="622.63">HUNTINGTONS_DISEASE</text>
<text x="356.2" y="635.59">HOMOLOGOUS_RECOMBINATION</text>
<text x="356.2" y="648.55">GLYOXYLATE_AND_DICARBOXYLATE_METABOLISM</text>
<text x="356.2" y="661.51">GLYCOSPHINGOLIPID_BIOSYNTHESIS_GLOBO_SERIES</text>
<text x="356.2" y="674.47">GLYCOSPHINGOLIPID_BIOSYNTHESIS_GANGLIO_SERIES</text>
<text x="356.2" y="687.43">GLYCOLYSIS_GLUCONEOGENESIS</text>
<text x="356.2" y="700.39">GLUTATHIONE_METABOLISM</text>
<text x="356.2" y="713.35">GLIOMA</text>
<text x="356.2" y="726.31">GAP_JUNCTION</text>
<text x="356.2" y="739.27">FOLATE_BIOSYNTHESIS</text>
<text x="356.2" y="752.22">FOCAL_ADHESION</text>
<text x="356.2" y="765.18">FATTY_ACID_METABOLISM</text>
<text x="356.2" y="778.14">EPITHELIAL_CELL_SIGNALING_IN_HELICOBACTER_PYLORI_INFECTION</text>
<text x="356.2" y="791.10">ENDOCYTOSIS</text>
<text x="356.2" y="804.06">ECM_RECEPTOR_INTERACTION</text>
<text x="356.2" y="817.02">DNA_REPLICATION</text>
<text x="356.2" y="829.98">DILATED_CARDIOMYOPATHY</text>
<text x="356.2" y="842.94">CYTOKINE_CYTOKINE_RECEPTOR_INTERACTION</text>
<text x="356.2" y="855.90">CYSTEINE_AND_METHIONINE_METABOLISM</text>
<text x="356.2" y="868.86">CITRATE_CYCLE_TCA_CYCLE</text>
<text x="356.2" y="881.81">CHRONIC_MYELOID_LEUKEMIA</text>
<text x="356.2" y="894.77">CHEMOKINE_SIGNALING_PATHWAY</text>
<text x="356.2" y="907.73">CELL_CYCLE</text>
<text x="356.2" y="920.69">BUTANOATE_METABOLISM</text>
<text x="356.2" y="933.65">BIOSYNTHESIS_OF_UNSATURATED_FATTY_ACIDS</text>
<text x="356.2" y="946.61">BASE_EXCISION_REPAIR</text>
<text x="356.2" y="959.57">AXON_GUIDANCE</text>
<text x="356.2" y="972.53">ARRHYTHMOGENIC_RIGHT_VENTRICULAR_CARDIOMYOPATHY_ARVC</text>
<text x="356.2" y="985.49">APOPTOSIS</text>
<text x="356.2" y="998.45">ANTIGEN_PROCESSING_AND_PRESENTATION</text>
<text x="356.2" y="1011.40">AMYOTROPHIC_LATERAL_SCLEROSIS_ALS</text>
<text x="356.2" y="1024.36">AMINO_SUGAR_AND_NUCLEOTIDE_SUGAR_METABOLISM</text>
<text x="356.2" y="1037.32">ALZHEIMERS_DISEASE</text>
<text x="356.2" y="1050.28">ALPHA_LINOLENIC_ACID_METABOLISM</text>
<text x="356.2" y="1063.24">ADHERENS_JUNCTION</text>
</g>
<g font-size="9.00">
<g transform="translate(395.90,1071.10) rotate(-45)"><text text-anchor="end" x="-2.75" y="6.50">WT inf</text><text text-anchor="middle" x="-12.47" y="16.90">vs WT con</text></g>
<g transform="translate(448.20,1071.10) rotate(-45)"><text text-anchor="end" x="-0.05" y="6.50">WT inf + BARD</text><text text-anchor="middle" x="-29.00" y="16.90">vs WT inf</text></g>
<g transform="translate(500.50,1071.10) rotate(-45)"><text text-anchor="end" x="-1.55" y="6.50">WT inf + 4OI</text><text text-anchor="middle" x="-24.45" y="16.90">vs WT inf</text></g>
<g transform="translate(552.90,1071.10) rotate(-45)"><text text-anchor="end" x="-0.05" y="6.50">WT inf + SEL</text><text text-anchor="middle" x="-25.70" y="16.90">vs WT inf</text></g>
</g>
<g font-size="10.35">
<text x="597.0" y="434.2">−log10(padj)</text>
<polygon points="604.55,441.20 609.70,449.50 599.40,449.50" fill="#000"/>
<text x="617.3" y="449.90">1.00</text>
<polygon points="604.55,454.70 611.10,465.50 598.00,465.50" fill="#000"/>
<text x="617.3" y="465.10">1.25</text>
<polygon points="604.55,468.90 612.20,481.30 596.90,481.30" fill="#000"/>
<text x="617.3" y="480.40">1.50</text>
<text x="597.0" y="512.8">Status</text>
<polygon points="604.40,523.64 606.70,527.63 602.10,527.63" fill="#fff" stroke="#d6604d" stroke-width="1.10" stroke-linejoin="miter"/>
<text x="616.7" y="528.8">Upregulated</text>
<polygon points="604.40,543.56 606.70,539.57 602.10,539.57" fill="#fff" stroke="#1e9ad0" stroke-width="1.10" stroke-linejoin="miter"/>
<text x="616.7" y="544.1">Downregulated</text>
<text x="597.0" y="576.4">NES</text>
<defs><linearGradient id="cb" x1="0" y1="0" x2="0" y2="1"><stop offset="0.0000" stop-color="#d15942"/><stop offset="0.0417" stop-color="#d46550"/><stop offset="0.0833" stop-color="#d8715d"/><stop offset="0.1250" stop-color="#db7d6b"/><stop offset="0.1667" stop-color="#de8979"/><stop offset="0.2083" stop-color="#e29586"/><stop offset="0.2500" stop-color="#e5a194"/><stop offset="0.2917" stop-color="#e9aea3"/><stop offset="0.3333" stop-color="#ecbab1"/><stop offset="0.3750" stop-color="#f0c7c0"/><stop offset="0.4167" stop-color="#f3d4ce"/><stop offset="0.4583" stop-color="#f7e2de"/><stop offset="0.5000" stop-color="#fbf0ee"/><stop offset="0.5417" stop-color="#feffff"/><stop offset="0.5833" stop-color="#ebf5fa"/><stop offset="0.6250" stop-color="#d9ecf6"/><stop offset="0.6667" stop-color="#c8e3f2"/><stop offset="0.7083" stop-color="#b8dbee"/><stop offset="0.7500" stop-color="#a8d2ea"/><stop offset="0.7917" stop-color="#98cae6"/><stop offset="0.8333" stop-color="#88c2e3"/><stop offset="0.8750" stop-color="#79badf"/><stop offset="0.9167" stop-color="#69b3db"/><stop offset="0.9583" stop-color="#5aabd8"/><stop offset="1.0000" stop-color="#4ba3d4"/></linearGradient></defs>
<rect x="596.2" y="582.0" width="15.8" height="76.1" fill="url(#cb)"/>
<line x1="596.2" x2="599.5" y1="595.40" y2="595.40" stroke="#fff" stroke-width="0.6"/>
<line x1="608.7" x2="612.0" y1="595.40" y2="595.40" stroke="#fff" stroke-width="0.6"/>
<text x="615.7" y="599.00">2</text>
<line x1="596.2" x2="599.5" y1="609.25" y2="609.25" stroke="#fff" stroke-width="0.6"/>
<line x1="608.7" x2="612.0" y1="609.25" y2="609.25" stroke="#fff" stroke-width="0.6"/>
<text x="615.7" y="612.85">1</text>
<line x1="596.2" x2="599.5" y1="623.10" y2="623.10" stroke="#fff" stroke-width="0.6"/>
<line x1="608.7" x2="612.0" y1="623.10" y2="623.10" stroke="#fff" stroke-width="0.6"/>
<text x="615.7" y="626.70">0</text>
<line x1="596.2" x2="599.5" y1="636.95" y2="636.95" stroke="#fff" stroke-width="0.6"/>
<line x1="608.7" x2="612.0" y1="636.95" y2="636.95" stroke="#fff" stroke-width="0.6"/>
<text x="615.7" y="640.55">−1</text>
<line x1="596.2" x2="599.5" y1="650.80" y2="650.80" stroke="#fff" stroke-width="0.6"/>
<line x1="608.7" x2="612.0" y1="650.80" y2="650.80" stroke="#fff" stroke-width="0.6"/>
<text x="615.7" y="654.40">−2</text>
</g>
</svg></body></html>
